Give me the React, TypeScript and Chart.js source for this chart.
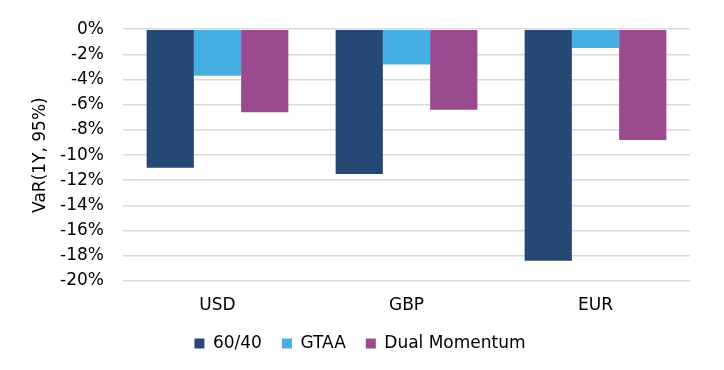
import React, { useEffect, useRef } from 'react';
import { Chart, registerables } from 'chart.js';

Chart.register(...registerables);

const categories = ['USD', 'GBP', 'EUR'];
const seriesNames = ['60/40', 'GTAA', 'Dual Momentum'];
const values6040 = [-11.0, -11.5, -18.4];
const valuesGTAA = [-3.7, -2.8, -1.5];
const valuesDual = [-6.6, -6.4, -8.8];
const yMin = -20;
const yMax = 0;
const yStep = 2;
const yTitle = 'VaR(1Y, 95%)';

const colors = ['#244975', '#45AEE3', '#9B4A8F'];
const FONT = "'DejaVu Sans', Verdana, sans-serif";
const FS = 17;

export default function App() {
  const ref = useRef<HTMLCanvasElement | null>(null);

  useEffect(() => {
    document.body.style.margin = '0';
    const canvas = ref.current;
    if (!canvas) return;
    const chart = new Chart(canvas, {
      type: 'bar',
      data: {
        labels: categories,
        datasets: [values6040, valuesGTAA, valuesDual].map((d, i) => ({
          label: seriesNames[i],
          data: d,
          backgroundColor: colors[i],
          borderWidth: 0,
          categoryPercentage: 0.75,
          barPercentage: 1.0,
        })),
      },
      options: {
        animation: false,
        responsive: false,
        maintainAspectRatio: false,
        layout: { padding: { left: 30, right: 34, top: 15, bottom: 8 } },
        plugins: {
          tooltip: { enabled: false },
          legend: {
            position: 'bottom',
            labels: {
              font: { family: FONT, size: FS },
              color: '#000',
              boxWidth: 10,
              boxHeight: 10,
              padding: 20,
            },
          },
        },
        scales: {
          x: {
            grid: { display: false, drawTicks: false },
            border: { display: false },
            ticks: { font: { family: FONT, size: FS }, color: '#000', padding: 14 },
            afterFit: (s: any) => { s.height = 34; },
          },
          y: {
            min: yMin,
            max: yMax,
            grid: { color: '#D9D9D9', lineWidth: 1.6, drawTicks: false },
            border: { display: false },
            ticks: {
              stepSize: yStep,
              font: { family: FONT, size: FS },
              color: '#000',
              padding: 19,
              callback: (v: any) => `${v}%`,
            },
            title: {
              display: true,
              text: yTitle,
              font: { family: FONT, size: FS },
              color: '#000',
              padding: { top: 0, bottom: 0 },
            },
            afterFit: (s: any) => { s.width = 93; },
          },
        },
      },
    });
    return () => chart.destroy();
  }, []);

  return (
    <div style={{ width: 724, height: 370 }}>
      <canvas ref={ref} width={724} height={370} style={{ display: 'block' }} />
    </div>
  );
}
